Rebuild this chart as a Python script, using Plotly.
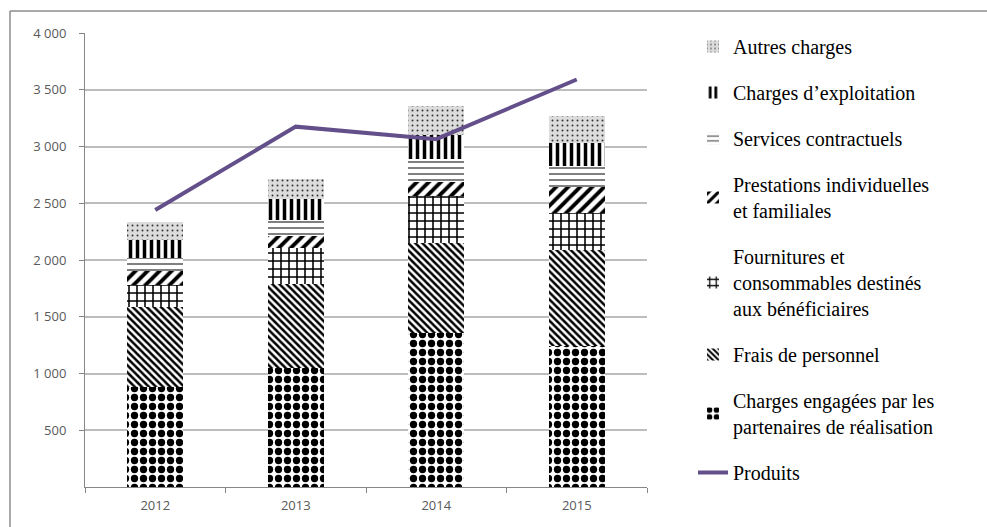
import plotly.graph_objects as go

# ---- data ----
years = ["2012", "2013", "2014", "2015"]
charges_partenaires = [880, 1050, 1360, 1245]
frais_personnel = [710, 740, 790, 845]
fournitures = [190, 320, 410, 320]
prestations = [125, 100, 130, 230]
services = [115, 140, 200, 190]
exploitation = [160, 190, 210, 200]
autres = [155, 170, 260, 240]
produits = [2440, 3175, 3065, 3590]

ytick_vals = [500, 1000, 1500, 2000, 2500, 3000, 3500, 4000]
ytick_text = ["500", "1\u00a0000", "1\u00a0500", "2\u00a0000", "2\u00a0500",
              "3\u00a0000", "3\u00a0500", "4\u00a0000"]

names = [
    "Charges engagées par les<br>partenaires de réalisation",
    "Frais de personnel",
    "Fournitures et<br>consommables destinés<br>aux bénéficiaires",
    "Prestations individuelles<br>et familiales",
    "Services contractuels",
    "Charges d’exploitation",
    "Autres charges",
]
name_line = "Produits"
series = [charges_partenaires, frais_personnel, fournitures, prestations,
          services, exploitation, autres]

# ---- styles ----
patterns = [
    dict(shape=".", size=9, solidity=0.52, fgcolor="black", bgcolor="white"),
    dict(shape="\\", size=5, solidity=0.5, fgcolor="black", bgcolor="white"),
    dict(shape="+", size=8, solidity=0.35, fgcolor="black", bgcolor="white"),
    dict(shape="/", size=8.5, solidity=0.45, fgcolor="black", bgcolor="white"),
    dict(shape="-", size=6, solidity=0.25, fgcolor="#555555", bgcolor="white"),
    dict(shape="|", size=7, solidity=0.5, fgcolor="black", bgcolor="white"),
    dict(shape=".", size=5, solidity=0.12, fgcolor="#333333", bgcolor="#dcdcdc"),
]
ranks = [7, 6, 5, 4, 3, 2, 1]

fig = go.Figure()
for i, (nm, vals) in enumerate(zip(names, series)):
    pat = dict(patterns[i])
    pat["fillmode"] = "replace"
    fig.add_trace(go.Bar(
        x=years, y=vals, name=nm,
        marker=dict(color=pat["bgcolor"], line=dict(width=0), pattern=pat),
        width=0.4, legendgroup="g%d" % i, legendrank=ranks[i],
    ))

fig.add_trace(go.Scatter(
    x=years, y=produits, name=name_line, mode="lines",
    line=dict(color="#634f8a", width=4),
    legendgroup="gline", legendrank=8,
))

W, H = 987, 527
L, R, T, B = 85, 340, 33, 40
pw = W - L - R
ph = H - T - B

def px_x(p):
    return (p - L) / pw

def px_y(p):
    return (H - B - p) / ph

border = "#8c8c8c"
fig.update_layout(
    width=W, height=H,
    margin=dict(l=L, r=R, t=T, b=B, pad=0),
    paper_bgcolor="white", plot_bgcolor="white",
    barmode="stack",
    showlegend=True,
    legend=dict(
        x=px_x(693), y=px_y(27), xanchor="left", yanchor="top",
        traceorder="grouped", tracegroupgap=17, maxheight=520,
        font=dict(family="Liberation Serif", size=20, color="black"),
        bgcolor="rgba(0,0,0,0)", valign="middle",
    ),
    xaxis=dict(
        type="category", showgrid=False,
        showline=True, linecolor="#878787", linewidth=1,
        ticks="outside", tickson="boundaries", ticklen=5, tickcolor="#878787",
        tickfont=dict(family="Open Sans", size=13, color="#595959"),
        ticklabelstandoff=6,
    ),
    yaxis=dict(
        range=[0, 4000], tickvals=ytick_vals, ticktext=ytick_text,
        showgrid=True, gridcolor="#bdbdbd", gridwidth=1.5,
        showline=True, linecolor="#878787", linewidth=1,
        ticks="outside", ticklen=5, tickcolor="#878787",
        tickfont=dict(family="Open Sans", size=13, color="#595959"),
        ticklabelstandoff=10, zeroline=False,
    ),
    shapes=[
        dict(type="line", xref="paper", yref="paper",
             x0=px_x(10), x1=px_x(987), y0=px_y(11), y1=px_y(11),
             line=dict(color=border, width=1.5)),
        dict(type="line", xref="paper", yref="paper",
             x0=px_x(10), x1=px_x(10), y0=px_y(11), y1=px_y(527),
             line=dict(color=border, width=1.5)),
    ],
)

fig.write_html("out.html")
